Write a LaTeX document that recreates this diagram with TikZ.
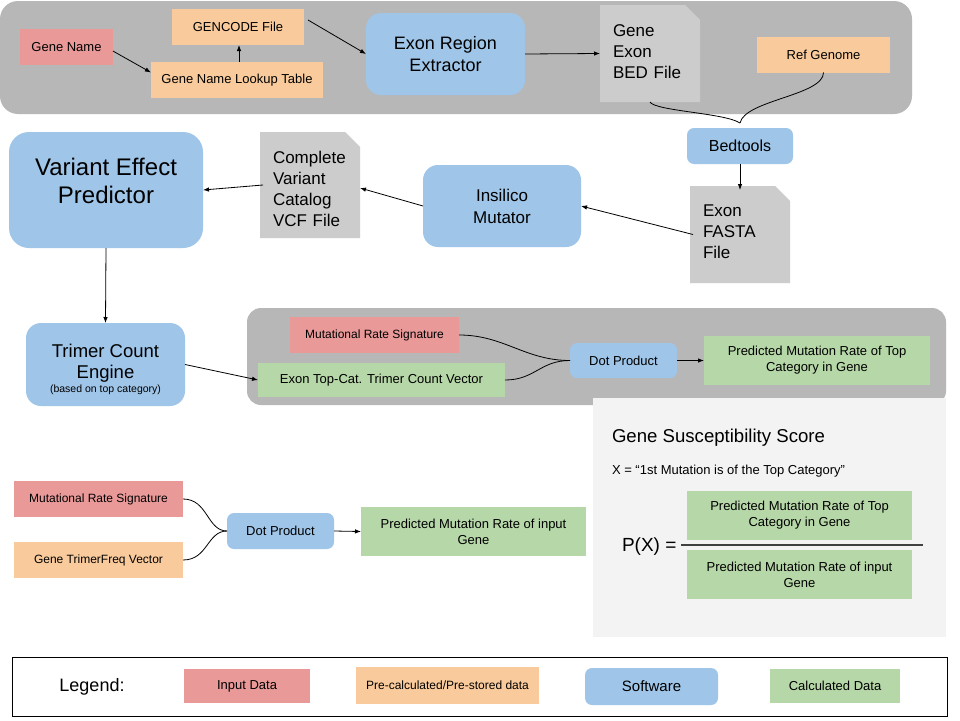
\documentclass[tikz,border=0pt]{standalone}
\usepackage{fontspec}
\setmainfont{Liberation Sans}
\usetikzlibrary{arrows.meta,calc}
\definecolor{cred}{HTML}{EA9999}
\definecolor{corange}{HTML}{F9CB9C}
\definecolor{cblue}{HTML}{9FC5E8}
\definecolor{cgreen}{HTML}{B6D7A8}
\definecolor{cpanel}{HTML}{B7B7B7}
\definecolor{cdoc}{HTML}{CCCCCC}
\definecolor{clight}{HTML}{F3F3F3}
\newcommand\myfs[2]{\fontsize{#1}{#2}\selectfont}
\tikzset{
  box/.style={inner sep=0pt, outer sep=0pt, align=center, font=\myfs{13}{16}},
  inp/.style={box, fill=cred},
  pre/.style={box, fill=corange},
  sw/.style={box, fill=cblue, rounded corners=7pt},
  bigsw/.style={box, fill=cblue, rounded corners=15pt},
  calcbox/.style={box, fill=cgreen},
  docbox/.style={inner ysep=0pt, inner xsep=13pt, outer sep=0pt, align=left,
    text width=74pt, minimum width=100pt, font=\myfs{17}{21},
    path picture={\fill[cdoc] (path picture bounding box.south west) |-
      ([xshift=-15pt]path picture bounding box.north east) --
      ([yshift=-15pt]path picture bounding box.north east) |- cycle;}},
  arr/.style={-{Latex[length=6pt,width=4.5pt]}, line width=0.8pt},
  con/.style={line width=0.8pt},
  plain/.style={inner sep=0pt, outer sep=0pt},
}
\begin{document}
\begin{tikzpicture}[x=1pt,y=-1pt]
\useasboundingbox (0,0) rectangle (960,720);
\fill[white] (0,0) rectangle (960,720);
% panels
\fill[cpanel, rounded corners=18pt] (0,1) rectangle (912,114);
\fill[cpanel, rounded corners=14pt] (247,308) rectangle (946,405);
\fill[clight] (593,398) rectangle (946,637);
\draw[line width=1pt] (12,657) rectangle (947,716);

% top row
\node[inp, minimum width=93pt, minimum height=36pt] (gname) at (66.5,47) {Gene Name};
\node[pre, minimum width=132pt, minimum height=36pt] (gencode) at (238,27) {GENCODE File};
\node[pre, minimum width=172pt, minimum height=36pt] (lookup) at (237,80) {Gene Name Lookup Table};
\node[bigsw, minimum width=159pt, minimum height=82pt, font=\myfs{18}{22}] (ere) at (445.5,54) {Exon Region\\Extractor};
\node[docbox, minimum height=97pt, text height=7.5pt] (bed) at (650,53.5) {Gene\\Exon\\BED File};
\node[pre, minimum width=133pt, minimum height=36pt] (ref) at (823.5,54.5) {Ref Genome};
\node[sw, minimum width=106pt, minimum height=36pt, font=\myfs{16}{19}] (bedtools) at (740,146) {Bedtools};
\coordinate (tip) at (740,123);

% second row
\node[docbox, minimum height=97pt, text height=5.2pt] (fasta) at (740,234.5) {Exon\\FASTA\\File};
\node[bigsw, minimum width=158pt, minimum height=82pt, font=\myfs{17}{22}] (mut) at (502,206) {Insilico\\Mutator};
\node[docbox, minimum height=106pt, text height=20pt] (vcf) at (310,185) {Complete\\Variant\\Catalog\\VCF File};
\node[box, fill=cblue, rounded corners=20pt, minimum width=194pt, minimum height=116pt,
      font=\myfs{24}{28}, text depth=18pt] (vep) at (106,190) {Variant Effect\\Predictor};

% third row
\node[bigsw, minimum width=159pt, minimum height=83pt, font=\myfs{18.5}{21}, text depth=7pt] (tce) at (105.5,364.5) {Trimer Count\\Engine};
\node[plain, anchor=base, font=\myfs{10.5}{12}] (tcesub) at (105.5,392) {(based on top category)};
\node[inp, minimum width=169pt, minimum height=36pt, font=\myfs{12}{14}] (mrs) at (374.5,335) {Mutational Rate Signature};
\node[calcbox, minimum width=247pt, minimum height=34pt] (topcat) at (381.5,380) {Exon Top-Cat. Trimer Count Vector};
\node[sw, minimum width=107pt, minimum height=35pt] (dot) at (623.5,360.5) {Dot Product};
\node[calcbox, minimum width=226pt, minimum height=49pt] (predtop) at (817,360.5) {Predicted Mutation Rate of Top\\Category in Gene};

% bottom left
\node[inp, minimum width=169pt, minimum height=36pt, font=\myfs{12}{14}] (mrs2) at (98.5,499) {Mutational Rate Signature};
\node[pre, minimum width=169pt, minimum height=36pt, font=\myfs{12}{14}] (tfv) at (98.5,560) {Gene TrimerFreq Vector};
\node[sw, minimum width=107pt, minimum height=36pt] (dot2) at (280.5,531) {Dot Product};
\node[calcbox, minimum width=225pt, minimum height=49pt] (predin) at (473.5,531.5) {Predicted Mutation Rate of input\\Gene};

% susceptibility panel
\node[plain, anchor=base west, font=\myfs{18.6}{22}] (gss) at (612,442) {Gene Susceptibility Score};
\node[plain, anchor=base west, font=\myfs{13}{16}] (xdef) at (612,474) {X = “1st Mutation is of the Top Category”};
\node[calcbox, minimum width=225pt, minimum height=49pt] (numer) at (799.5,515.5) {Predicted Mutation Rate of Top\\Category in Gene};
\node[calcbox, minimum width=225pt, minimum height=49pt] (denom) at (799.5,574.5) {Predicted Mutation Rate of input\\Gene};
\node[plain, anchor=base west, font=\myfs{19}{22}] (px) at (622,551) {P(X) =};
\coordinate (fracL) at (681,545);
\coordinate (fracR) at (923,545);
\draw[line width=1.5pt, black!75] (fracL) -- (fracR);

% legend
\node[plain, font=\myfs{18}{22}] (legend) at (92,687) {Legend:};
\node[inp, minimum width=126pt, minimum height=34pt] (lin) at (247,686) {Input Data};
\node[pre, minimum width=183pt, minimum height=37pt, font=\myfs{12}{14}] (lpre) at (447.5,685.5) {Pre-calculated/Pre-stored data};
\node[sw, minimum width=133pt, minimum height=37pt, font=\myfs{15}{18}] (lsw) at (651.5,686.5) {Software};
\node[calcbox, minimum width=130pt, minimum height=34pt] (lcalc) at (835,686) {Calculated Data};

% connectors
\draw[arr] (gname.-5) -- (lookup.175);
\draw[arr] ([xshift=2pt]lookup.north) -- ([xshift=1pt]gencode.south);
\draw[arr] ($(gencode.east)+(4pt,7pt)$) -- (ere.west);
\draw[arr] (ere.east) -- (bed.west);
\draw[con] (bed.south) .. controls +(5,9) and +(-15,-10) .. (tip);
\draw[con] (ref.south) .. controls +(0,23) and +(5,-23) .. (tip);
\draw[arr] (bedtools.south) -- ([yshift=-4pt]fasta.north);
\draw[arr] ([xshift=3pt]fasta.west) -- (mut.east);
\draw[arr] (mut.west) -- ([yshift=-3pt]vcf.east);
\draw[arr] ([xshift=3pt]vcf.west) -- (vep.east);
\draw[arr] (vep.south) -- (tce.north);
\draw[arr] (tce.east) -- (topcat.west);
\draw[con] (mrs.east) .. controls +(45,0) and +(-45,0) .. (dot.west);
\draw[con] (topcat.east) .. controls +(30,0) and +(-30,0) .. (dot.west);
\draw[arr] (dot.east) -- (predtop.west);
\draw[con] (mrs2.east) .. controls +(25,0) and +(-20,0) .. (dot2.west);
\draw[con] (tfv.east) .. controls +(25,0) and +(-20,0) .. (dot2.west);
\draw[arr] (dot2.east) -- (predin.west);
\end{tikzpicture}
\end{document}
